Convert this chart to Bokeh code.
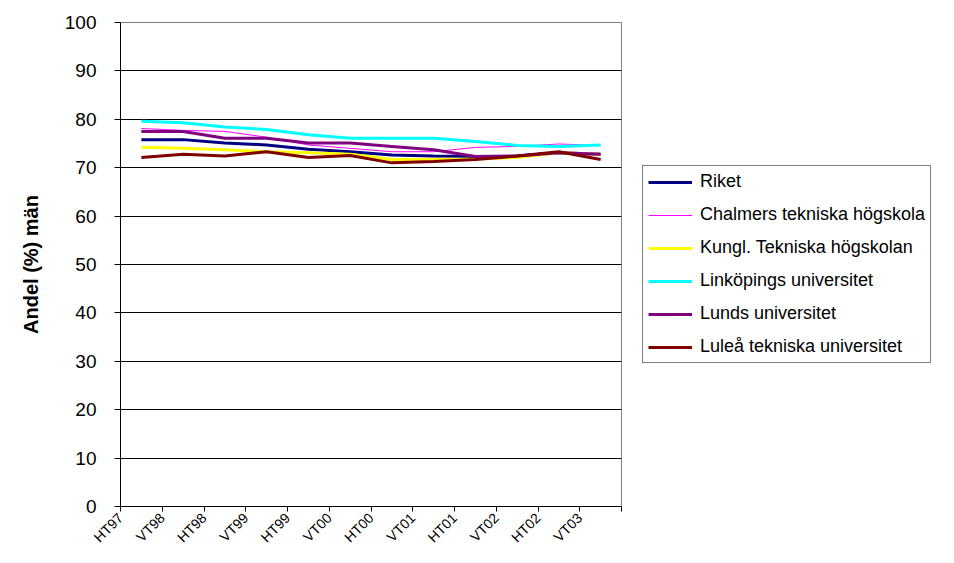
import math
from bokeh.plotting import figure
from bokeh.models import Range1d, FixedTicker, Legend, LegendItem
from bokeh.embed import file_html
from bokeh.resources import INLINE

terms = ["HT97", "VT98", "HT98", "VT99", "HT99", "VT00", "HT00", "VT01", "HT01", "VT02", "HT02", "VT03"]

riket     = [75.8, 75.8, 75.1, 74.7, 73.8, 73.3, 72.6, 72.4, 72.3, 72.4, 73.1, 72.8]
chalmers  = [78.1, 77.7, 77.5, 76.3, 74.7, 74.0, 73.3, 73.3, 74.2, 74.4, 74.9, 74.6]
kth       = [74.2, 74.0, 73.7, 73.3, 73.1, 72.8, 71.7, 71.7, 71.8, 72.1, 73.1, 72.8]
linkoping = [79.6, 79.3, 78.4, 77.9, 76.8, 76.1, 76.1, 76.1, 75.4, 74.6, 74.4, 74.7]
lunds     = [77.5, 77.5, 76.1, 76.1, 75.1, 75.1, 74.4, 73.7, 72.3, 72.4, 73.1, 72.8]
lulea     = [72.1, 72.8, 72.4, 73.3, 72.1, 72.5, 71.0, 71.3, 71.7, 72.4, 73.3, 71.7]

series_names = ["Riket", "Chalmers tekniska högskola", "Kungl. Tekniska högskolan",
                "Linköpings universitet", "Lunds universitet", "Luleå tekniska universitet"]
series_values = [riket, chalmers, kth, linkoping, lunds, lulea]
series_colors = ["#000080", "#FF00FF", "#FFFF00", "#00FFFF", "#800080", "#800000"]
series_widths = [3, 1, 3, 3, 3, 3]

yticks = list(range(0, 101, 10))

FONT = "Liberation Sans"

p = figure(frame_width=501, frame_height=484, output_backend="svg", toolbar_location=None,
           x_range=Range1d(0, len(terms)), y_range=Range1d(0, 100),
           min_border_left=120, min_border_top=22, min_border_bottom=54,
           min_border_right=0,
           background_fill_color="white", border_fill_color="white")
p.outline_line_color = "#808080"
p.outline_line_width = 1

xs = [i + 0.5 for i in range(len(terms))]
renderers = []
for name, vals, col, w in zip(series_names, series_values, series_colors, series_widths):
    r = p.line(xs, vals, line_color=col, line_width=w)
    renderers.append((name, r))

# axes
p.xaxis.ticker = FixedTicker(ticks=list(range(0, len(terms) + 1)))
p.xaxis.major_label_overrides = {i: t for i, t in enumerate(terms)} | {len(terms): ""}
p.xaxis.major_label_orientation = math.pi / 4
p.xaxis.major_label_text_font = FONT
p.xaxis.major_label_text_font_size = "14px"
p.xaxis.major_label_text_color = "black"
p.xaxis.major_tick_in = 0
p.xaxis.major_tick_out = 5
p.xaxis.minor_tick_line_color = None
p.xaxis.axis_line_color = "black"
p.xaxis.major_tick_line_color = "black"
p.xaxis.major_label_standoff = 4

p.yaxis.ticker = FixedTicker(ticks=yticks)
p.yaxis.major_label_text_font = FONT
p.yaxis.major_label_text_font_size = "19px"
p.yaxis.major_label_text_color = "black"
p.yaxis.major_tick_in = 0
p.yaxis.major_tick_out = 6
p.yaxis.minor_tick_line_color = None
p.yaxis.axis_line_color = "black"
p.yaxis.major_tick_line_color = "black"
p.yaxis.axis_label = "Andel (%) män"
p.yaxis.axis_label_text_font = FONT
p.yaxis.axis_label_text_font_size = "20px"
p.yaxis.axis_label_text_font_style = "bold"
p.yaxis.axis_label_text_color = "black"
p.yaxis.major_label_standoff = 18
p.yaxis.axis_label_standoff = 20

p.xgrid.grid_line_color = None
p.ygrid.grid_line_color = "black"
p.ygrid.grid_line_width = 1

legend = Legend(items=[LegendItem(label=n, renderers=[r]) for n, r in renderers],
                location="center_left", orientation="vertical",
                glyph_width=44, glyph_height=20, label_height=20, label_standoff=8,
                spacing=12, padding=5, margin=21,
                label_text_font=FONT, label_text_font_size="18px", label_text_color="black",
                border_line_color="black", border_line_width=1,
                background_fill_color="white", background_fill_alpha=1.0)
p.add_layout(legend, "right")

open("out.html", "w").write(file_html(p, INLINE))
